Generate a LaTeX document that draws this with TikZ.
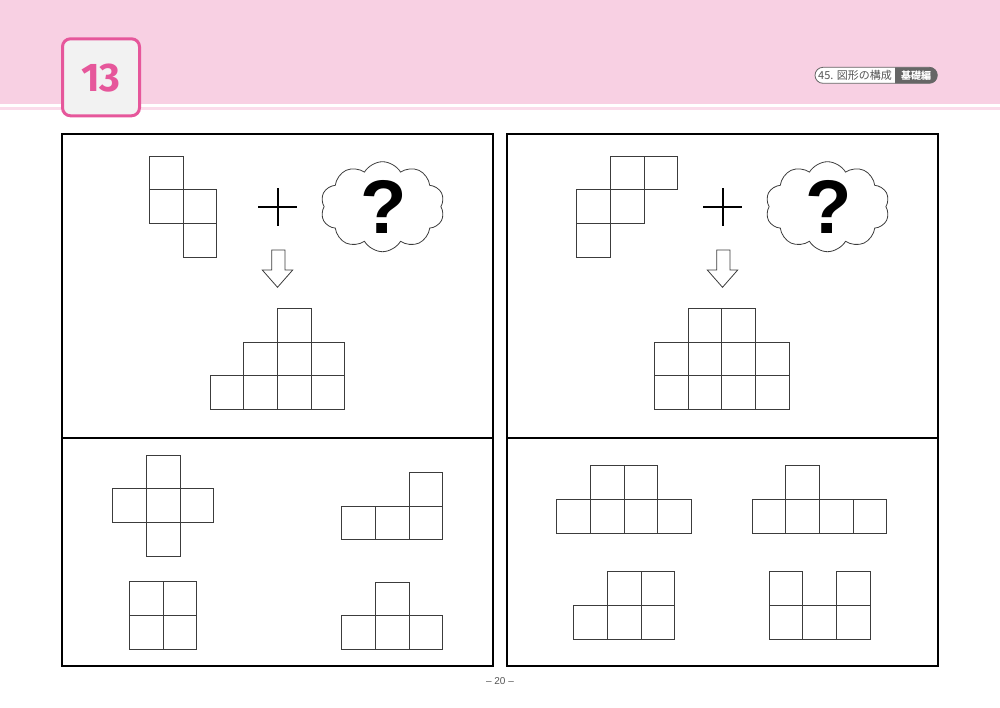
\documentclass[tikz,border=0pt]{standalone}
\usepackage{fontspec}
\setmainfont{Liberation Sans}
\newfontfamily\jpfont{Noto Sans CJK JP}
\newfontfamily\numfont{Fira Sans}
\usetikzlibrary{shapes.symbols}
\definecolor{hdrpink}{HTML}{F8D0E3}
\definecolor{hdrline}{HTML}{FBDCEB}
\definecolor{accent}{HTML}{E6579B}
\definecolor{boxfill}{HTML}{F2F2F2}
\definecolor{cellline}{HTML}{3C3C3C}
\definecolor{pilldark}{HTML}{666666}
\definecolor{pilltext}{HTML}{555555}
\tikzset{
  cellsq/.style={draw=cellline, line width=1pt},
  panel/.style={draw=black, line width=2pt},
  thought/.style={cloud, draw=cellline, line width=0.8pt, cloud puffs=10, cloud puff arc=120, aspect=1.45, minimum width=124pt, minimum height=90pt, inner sep=0pt},
  qmark/.style={font=\fontsize{76}{76}\selectfont\bfseries, inner sep=0pt},
  plusline/.style={line width=1.7pt, draw=black},
  downarrow/.style={draw=cellline, line width=0.8pt, fill=white, line join=miter},
}
\newcommand\blockpiece[4]{%
  \foreach \c/\r in {#4} {\draw[cellsq] ({#1+\c*#3},{#2+\r*#3}) rectangle ++(#3,#3);}}
\begin{document}
\begin{tikzpicture}[x=1pt,y=-1pt]
\useasboundingbox (0,0) rectangle (1000,707);
% header
\fill[hdrpink] (0,0) rectangle (1000,104);
\fill[hdrline] (0,107) rectangle (1000,109.5);
\node[draw=accent, line width=3pt, fill=boxfill, rounded corners=8pt, minimum size=77pt, inner sep=0pt] (numbox) at (101,77.3) {};
\node[font=\numfont\bfseries\fontsize{40}{40}\selectfont, text=accent, inner sep=0pt] (num) at (101,78) {13};
% label pill
\begin{scope}
  \clip[rounded corners=8pt] (815,67.3) rectangle (937.3,83.3);
  \fill[white] (810,60) rectangle (942,90);
  \fill[pilldark] (895,60) rectangle (942,90);
\end{scope}
\draw[pilldark, line width=0.8pt, rounded corners=8pt] (815,67.3) rectangle (937.3,83.3);
\node[font=\jpfont\fontsize{11}{11}\selectfont, text=pilltext, inner sep=0pt] (lbl) at (855,75.3) {45. 図形の構成};
\node[font=\jpfont\bfseries\fontsize{10}{10}\selectfont, text=white, inner sep=0pt] (lvl) at (916,75.3) {基礎編};
% panels
\draw[panel] (62,134) rectangle (493,666);
\draw[panel] (62,438) -- (493,438);
\draw[panel] (507,134) rectangle (938,666);
\draw[panel] (507,438) -- (938,438);
% left problem
\blockpiece{149.5}{156}{33.7}{0/0,0/1,1/1,1/2}
\draw[plusline] (258.3,207.3) -- (296.7,207.3);
\draw[plusline] (277.7,188.3) -- (277.7,226);
\node[thought] (cloudL) at (382.5,206.7) {};
\node[qmark] (qL) at (384,207) {?};
\draw[downarrow] (271.7,250) -- (285,250) -- (285,270) -- (292.7,270) -- (277.5,287.3) -- (262.3,270) -- (271.7,270) -- cycle;
\blockpiece{210}{308.3}{33.7}{2/0,1/1,2/1,3/1,0/2,1/2,2/2,3/2}
% left choices
\blockpiece{112.7}{455}{33.7}{1/0,0/1,1/1,2/1,1/2}
\blockpiece{341.7}{472.3}{33.7}{2/0,0/1,1/1,2/1}
\blockpiece{129.3}{581.7}{33.7}{0/0,1/0,0/1,1/1}
\blockpiece{341.7}{582}{33.7}{1/0,0/1,1/1,2/1}
% right problem
\blockpiece{576.7}{156}{33.7}{1/0,2/0,0/1,1/1,0/2}
\draw[plusline] (703.3,207.3) -- (741.7,207.3);
\draw[plusline] (722.7,188.3) -- (722.7,226);
\node[thought] (cloudR) at (827.5,206.7) {};
\node[qmark] (qR) at (829,207) {?};
\draw[downarrow] (716.7,250) -- (730,250) -- (730,270) -- (737.7,270) -- (722.5,287.3) -- (707.3,270) -- (716.7,270) -- cycle;
\blockpiece{654.3}{308.3}{33.7}{1/0,2/0,0/1,1/1,2/1,3/1,0/2,1/2,2/2,3/2}
% right choices
\blockpiece{556.7}{465.7}{33.7}{1/0,2/0,0/1,1/1,2/1,3/1}
\blockpiece{752}{465.7}{33.7}{1/0,0/1,1/1,2/1,3/1}
\blockpiece{573.7}{571.7}{33.7}{1/0,2/0,0/1,1/1,2/1}
\blockpiece{769}{571.7}{33.7}{0/0,2/0,0/1,1/1,2/1}
% page number
\node[font=\fontsize{10}{10}\selectfont, text=pilltext, inner sep=0pt] (pg) at (500,681) {– 20 –};
\end{tikzpicture}
\end{document}
